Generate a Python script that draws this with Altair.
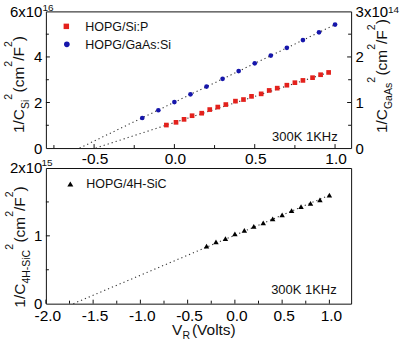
import altair as alt
import pandas as pd

FONT = "Liberation Sans"
RED = "#e3211c"
BLUE = "#1616ab"
INK = "#111111"

# ---------------- data ----------------
# top panel: HOPG/Si:P  (left axis, 1/C^2 in 1e16 cm^2/F^2)
sip_v = [-0.05, 0.01, 0.06, 0.11, 0.17, 0.22, 0.27, 0.32, 0.38, 0.43,
         0.48, 0.54, 0.59, 0.64, 0.70, 0.75, 0.80, 0.86, 0.91, 0.96]
sip_c = [1.01, 1.13, 1.26, 1.42, 1.53, 1.69, 1.80, 1.91, 2.06, 2.13,
         2.27, 2.38, 2.53, 2.63, 2.76, 2.87, 2.97, 3.09, 3.22, 3.32]
# top panel: HOPG/GaAs:Si (right axis, 1/C^2 in 1e14 cm^2/F^2)
gaas_v = [-0.2, -0.1, 0.0, 0.1, 0.2, 0.3, 0.4, 0.5, 0.6, 0.7, 0.8, 0.9, 1.0]
gaas_c = [0.66, 0.83, 1.01, 1.18, 1.35, 1.52, 1.69, 1.86, 2.03, 2.20, 2.37, 2.54, 2.71]
# bottom panel: HOPG/4H-SiC (1/C^2 in 1e15 cm^2/F^2)
sic_v = [-0.3, -0.2, -0.1, 0.0, 0.1, 0.2, 0.3, 0.4, 0.5, 0.6, 0.7, 0.8, 0.9, 1.0]
sic_c = [0.85, 0.91, 0.96, 1.03, 1.08, 1.14, 1.19, 1.25, 1.31, 1.37, 1.43, 1.48, 1.53, 1.60]
# dotted linear extrapolations (end points)
sip_fit_v, sip_fit_c = [-0.49, 0.96], [0.0, 3.32]
gaas_fit_v, gaas_fit_c = [-0.59, 1.0], [0.0, 2.71]
sic_fit_v, sic_fit_c = [-1.71, 1.0], [0.0, 1.60]

# axis ticks and labels
top_x_major = [-0.5, 0.0, 0.5, 1.0]
top_x_minor = [-0.75, -0.25, 0.25, 0.75]
top_yl_major = [2, 4]
top_yl_minor = [1, 3, 5]
top_yr_major = [1, 2]
top_yr_minor = [0.5, 1.5, 2.5]
bot_x_major = [-2.0, -1.5, -1.0, -0.5, 0.0, 0.5, 1.0]
bot_x_minor = [-1.75, -1.25, -0.75, -0.25, 0.25, 0.75]
bot_y_major = [1]
bot_y_minor = [0.5, 1.5]

top_x_labels = [-0.5, 0.0, 0.5, 1.0]
top_yl_labels = [0, 2, 4, 6]
top_yr_labels = [0, 1, 2, 3]
bot_x_labels = [-2.0, -1.5, -1.0, -0.5, 0.0, 0.5, 1.0]
bot_y_labels = [0, 1, 2]

# ---------------- layout helpers ----------------
W = 306
H_TOP = 137
H_BOT = 136
TOP_ORIGIN = (45.5, 10.0)
BOT_ORIGIN = (45.5, 167.0)
TICK_MAJ = 4
TICK_MIN = 3
XLBL = 15.5
YLBL = 15

AW = {c: 556 for c in "0123456789"}
AW.update({' ': 278, '(': 333, ')': 333, '/': 278, '-': 333, ':': 278, '.': 278,
           'A': 667, 'C': 722, 'F': 611, 'G': 778, 'H': 722, 'K': 667, 'P': 667,
           'O': 778, 'R': 722, 'S': 667, 'V': 667, 'a': 556, 'c': 500, 'i': 222,
           'l': 222, 'm': 833, 'o': 556, 's': 500, 't': 278, 'z': 500})


def tw(s, size):
    return sum(AW.get(ch, 556) for ch in s) / 1000.0 * size


def txt(s, px, py, origin, size, angle=0, align="left", baseline="alphabetic", color=INK):
    ox, oy = origin
    return alt.Chart(pd.DataFrame({"t": [s]})).mark_text(
        font=FONT, fontSize=size, angle=angle, align=align, baseline=baseline, color=color
    ).encode(text="t:N", x=alt.value(px - ox), y=alt.value(py - oy))


def vtitle(pieces, xb, y0, origin, main=15.5, small=10.5, sub_dx=4.5, sup_dx=-12.5):
    """pieces: (text, kind, gap_before) laid out bottom-to-top, rotated 270."""
    out = []
    y = y0
    for s, kind, gap in pieces:
        y -= gap
        size = main if kind == "n" else small
        dx = sub_dx if kind == "sub" else (sup_dx if kind == "sup" else 0)
        out.append(txt(s, xb + dx, y, origin, size, angle=270))
        y -= tw(s, size)
    return out


def htitle(pieces, x0, yb, origin, main=15.5, small=10.5, sub_dy=3.5, sup_dy=-8):
    out = []
    x = x0
    for s, kind, gap in pieces:
        x += gap
        size = main if kind == "n" else small
        dy = sub_dy if kind == "sub" else (sup_dy if kind == "sup" else 0)
        out.append(txt(s, x, yb + dy, origin, size))
        x += tw(s, size)
    return out


def ax(values, expr, orient, size, pad, offset=0):
    return alt.Axis(values=values, labelExpr=expr, orient=orient, ticks=False, tickSize=0,
                    domain=False, grid=False, labelFont=FONT, labelFontSize=size,
                    labelColor="black", labelPadding=pad, labelOverlap=False,
                    labelFlush=False, labelOffset=offset, title=None)


XEXPR = "replace(format(datum.value, '.1f'), '\u2212', '-')"


def xticks(vals, xenc, H, L):
    return alt.Chart(pd.DataFrame({"v": vals})).mark_rule(color=INK, strokeWidth=1).encode(
        x=xenc, y=alt.value(H), y2=alt.value(H - L))


def yticks(vals, yenc, L, right=False):
    x1, x2 = (W - L, W) if right else (0, L)
    return alt.Chart(pd.DataFrame({"v": vals})).mark_rule(color=INK, strokeWidth=1).encode(
        y=yenc, x=alt.value(x1), x2=alt.value(x2))


def title_pieces(sub):
    return [("1/C", "n", 0), (sub, "sub", 0), ("2", "sup", 0), ("(cm", "n", 1.5),
            ("2", "sup", 0), ("/F", "n", 0), ("2", "sup", 0), (")", "n", 0)]


# ---------------- top panel ----------------
xs_top = alt.Scale(domain=[-0.8, 1.1], nice=False, zero=False)
x_top_axis = ax(top_x_labels, XEXPR, "bottom", XLBL, 3.5, 0.5)
X_TOP = lambda f: alt.X(f, type="quantitative", scale=xs_top, axis=x_top_axis)
yl_axis = ax(top_yl_labels, "datum.value == 6 ? '6x10' : format(datum.value, 'd')", "left", YLBL, 4)
yr_axis = ax(top_yr_labels, "datum.value == 3 ? '3x10' : format(datum.value, 'd')", "right", YLBL, 4)
YL = lambda f: alt.Y(f, type="quantitative", scale=alt.Scale(domain=[0, 6], nice=False), axis=yl_axis)
YR = lambda f: alt.Y(f, type="quantitative", scale=alt.Scale(domain=[0, 3], nice=False), axis=yr_axis)

df_sip = pd.DataFrame({"v": sip_v, "c": sip_c})
df_gaas = pd.DataFrame({"v": gaas_v, "c": gaas_c})
df_sip_fit = pd.DataFrame({"v": sip_fit_v, "c": sip_fit_c})
df_gaas_fit = pd.DataFrame({"v": gaas_fit_v, "c": gaas_fit_c})

dotted = dict(color="#333333", strokeWidth=1.1, strokeDash=[1.2, 3])

left_layers = [
    # invisible anchor at the page's top-left corner (fixes the padding origin)
    alt.Chart(pd.DataFrame({"k": [0]})).mark_rule(strokeOpacity=0, strokeWidth=0.01).encode(
        x=alt.value(-TOP_ORIGIN[0]), x2=alt.value(-TOP_ORIGIN[0] + 1), y=alt.value(-TOP_ORIGIN[1])),
    alt.Chart(df_sip_fit).mark_line(**dotted).encode(x=X_TOP("v"), y=YL("c")),
    alt.Chart(df_sip).mark_square(size=22, color=RED, opacity=1).encode(x=X_TOP("v"), y=YL("c")),
    yticks(top_yl_major, YL("v"), TICK_MAJ),
    yticks(top_yl_minor, YL("v"), TICK_MIN),
    xticks(top_x_major, X_TOP("v"), H_TOP, TICK_MAJ),
    xticks(top_x_minor, X_TOP("v"), H_TOP, TICK_MIN),
    # legend
    alt.Chart(pd.DataFrame({"k": [0]})).mark_square(size=30, color=RED, opacity=1).encode(
        x=alt.value(20.5), y=alt.value(15)),
    alt.Chart(pd.DataFrame({"k": [0]})).mark_circle(size=32, color=BLUE, opacity=1).encode(
        x=alt.value(21), y=alt.value(33)),
    txt("HOPG/Si:P", 85, 29.5, TOP_ORIGIN, 12.5),
    txt("HOPG/GaAs:Si", 85, 47.5, TOP_ORIGIN, 12.5),
    txt("300K 1KHz", 338, 140, TOP_ORIGIN, 13, align="right"),
    txt("16", 42, 9.5, TOP_ORIGIN, 10),
    txt("14", 388.5, 12, TOP_ORIGIN, 10),
]
left_layers += vtitle(title_pieces("Si"), 24, 132, TOP_ORIGIN)
left_layers += vtitle(title_pieces("GaAs"), 387.5, 132, TOP_ORIGIN)

right_layers = [
    alt.Chart(df_gaas_fit).mark_line(**dotted).encode(x=X_TOP("v"), y=YR("c")),
    alt.Chart(df_gaas).mark_circle(size=22, color=BLUE, opacity=1).encode(x=X_TOP("v"), y=YR("c")),
    yticks(top_yr_major, YR("v"), TICK_MAJ, right=True),
    yticks(top_yr_minor, YR("v"), TICK_MIN, right=True),
]

top = alt.layer(alt.layer(*left_layers), alt.layer(*right_layers)).resolve_scale(
    y="independent").properties(width=W, height=H_TOP)

# ---------------- bottom panel ----------------
xs_bot = alt.Scale(domain=[-2.0, 1.23], nice=False, zero=False)
x_bot_axis = ax(bot_x_labels, XEXPR, "bottom", XLBL, 4.5, 1.5)
X_BOT = lambda f: alt.X(f, type="quantitative", scale=xs_bot, axis=x_bot_axis)
yb_axis = ax(bot_y_labels, "datum.value == 2 ? '2x10' : format(datum.value, 'd')", "left", YLBL, 4)
YB = lambda f: alt.Y(f, type="quantitative", scale=alt.Scale(domain=[0, 2], nice=False), axis=yb_axis)

df_sic = pd.DataFrame({"v": sic_v, "c": sic_c})
df_sic_fit = pd.DataFrame({"v": sic_fit_v, "c": sic_fit_c})

bot_layers = [
    alt.Chart(df_sic_fit).mark_line(**dotted).encode(x=X_BOT("v"), y=YB("c")),
    alt.Chart(df_sic).mark_point(shape="triangle-up", size=30, color="black", filled=True,
                                 opacity=1).encode(x=X_BOT("v"), y=YB("c")),
    yticks(bot_y_major, YB("v"), TICK_MAJ),
    yticks(bot_y_minor, YB("v"), TICK_MIN),
    xticks(bot_x_major, X_BOT("v"), H_BOT, TICK_MAJ),
    xticks(bot_x_minor, X_BOT("v"), H_BOT, TICK_MIN),
    alt.Chart(pd.DataFrame({"k": [0]})).mark_point(shape="triangle-up", size=36, color="black",
                                                   filled=True, opacity=1).encode(
        x=alt.value(24.5), y=alt.value(16)),
    txt("HOPG/4H-SiC", 86, 187.5, BOT_ORIGIN, 12.5),
    txt("300K 1KHz", 337, 293, BOT_ORIGIN, 13, align="right"),
    txt("15", 41, 165, BOT_ORIGIN, 10),
]
bot_layers += vtitle(title_pieces("4H-SiC"), 25, 307, BOT_ORIGIN)
bot_layers += htitle([("V", "n", 0), ("R", "sub", 0), ("(Volts)", "n", 2)], 172, 334.5, BOT_ORIGIN)

bottom = alt.layer(*bot_layers).properties(width=W, height=H_BOT)

chart = alt.vconcat(top, bottom, spacing=20, bounds="flush").configure_view(
    stroke=INK, strokeWidth=1).properties(
    padding={"left": 0, "top": 0, "right": 0, "bottom": 0}, background="white")

chart.save("out.html", embed_options={"renderer": "svg", "actions": False})
